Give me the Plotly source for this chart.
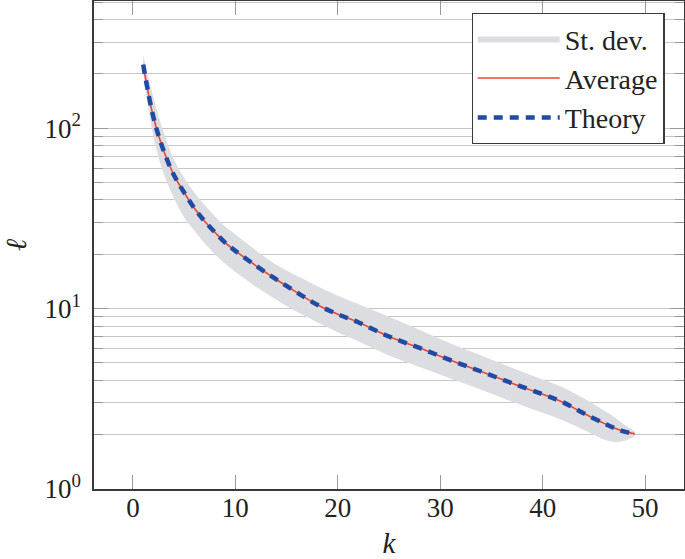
import plotly.graph_objects as go

k = [1, 2, 3, 4, 5, 6, 7, 8, 9, 10, 12, 14, 16, 18, 20, 22, 25, 28, 31, 34, 37, 40, 42, 44, 46, 47, 48, 49]

average = [225, 115, 75, 55, 44, 36, 30.5, 26.5, 23.2, 20.9, 17.3, 14.5, 12.3, 10.5, 9.3, 8.4, 7.0,
           6.05, 5.18, 4.48, 3.86, 3.35, 3.02, 2.63, 2.31, 2.18, 2.08, 2.02]
theory = [225, 115, 75, 55, 44, 36, 30.5, 26.5, 23.2, 20.9, 17.3, 14.5, 12.3, 10.5, 9.3, 8.4, 7.0,
          6.05, 5.18, 4.48, 3.86, 3.35, 3.02, 2.63, 2.31, 2.18, 2.08, 2.02]
std_upper = [255, 148, 95, 67, 53, 44, 37.5, 32.5, 28.5, 25.8, 21, 17.5, 15.2, 13.3, 11.8, 10.6, 9.0,
             7.6, 6.4, 5.5, 4.7, 4.05, 3.65, 3.18, 2.72, 2.5, 2.27, 2.08]
std_lower = [205, 90, 56, 41, 32, 27, 23, 20, 17.7, 16, 13.2, 11.2, 9.6, 8.4, 7.4, 6.6, 5.5,
             4.75, 4.1, 3.55, 3.05, 2.65, 2.4, 2.13, 1.88, 1.82, 1.85, 1.96]

x_ticks = [0, 10, 20, 30, 40, 50]
y_ticks = [1, 10, 100]
y_ticktext = ["10<sup>0</sup>", "10<sup>1</sup>", "10<sup>2</sup>"]
y_minor = [m * d for d in (1, 10, 100) for m in range(2, 10)]

FONT = "Liberation Serif"
BAND = "#dcdde0"
RED = "#f0442c"
BLUE = "#1f4aa6"
GRID = "#c6c6c6"
TICK = "#9a9a9a"
FRAME = "#3a3a3a"

fig = go.Figure()
fig.add_trace(go.Scatter(x=k, y=std_lower, mode="lines", line=dict(width=0, shape="spline", color=BAND),
                         showlegend=False, hoverinfo="skip"))
fig.add_trace(go.Scatter(x=k, y=std_upper, mode="lines", line=dict(width=0, shape="spline", color=BAND),
                         fill="tonexty", fillcolor=BAND, name="St. dev."))
fig.add_trace(go.Scatter(x=k, y=average, mode="lines", line=dict(width=1.6, color=RED, shape="spline"),
                         name="Average"))
fig.add_trace(go.Scatter(x=k, y=theory, mode="lines",
                         line=dict(width=4.5, color=BLUE, dash="9px,7px", shape="spline"),
                         name="Theory"))

fig.update_layout(
    width=685, height=559,
    margin=dict(l=94, r=1, t=1, b=70, autoexpand=False),
    paper_bgcolor="white", plot_bgcolor="white",
    font=dict(family=FONT, size=26, color="#222"),
    showlegend=True,
    legend=dict(x=0.967, y=0.976, xanchor="right", yanchor="top",
                bgcolor="white", bordercolor=FRAME, borderwidth=1.2,
                font=dict(family=FONT, size=28, color="#222"),
                traceorder="normal", tracegroupgap=0, itemwidth=82),
)
fig.update_xaxes(
    range=[-3.8, 53.8], tickvals=x_ticks, ticks="inside", ticklen=14, tickcolor=TICK, tickwidth=1.3,
    showline=True, linecolor=FRAME, linewidth=1.5, mirror="ticks", showgrid=False, zeroline=False,
    automargin=False, ticklabelstandoff=-6,
    tickfont=dict(family=FONT, size=27, color="#222"),
    title=dict(text="<i>k</i>", font=dict(family=FONT, size=29, color="#222"), standoff=11),
)
fig.update_yaxes(
    type="log", range=[0, 2.705], tickvals=y_ticks, ticktext=y_ticktext,
    ticks="inside", ticklen=14, tickcolor=TICK, tickwidth=1.3,
    showline=True, linecolor=FRAME, linewidth=1.5, mirror="ticks",
    showgrid=True, gridcolor=GRID, gridwidth=1.3, zeroline=False, automargin=False,
    ticklabelstandoff=6,
    minor=dict(tickvals=y_minor, ticks="inside", ticklen=9, tickcolor=TICK, tickwidth=1.3,
               showgrid=True, gridcolor=GRID, gridwidth=1.3),
    tickfont=dict(family=FONT, size=27, color="#222"),
    title=dict(text="<i>ℓ</i>", font=dict(family=FONT, size=29, color="#222"), standoff=24),
)

fig.write_html("out.html", config={"displayModeBar": False},
               post_script="document.body.style.margin='0';")
